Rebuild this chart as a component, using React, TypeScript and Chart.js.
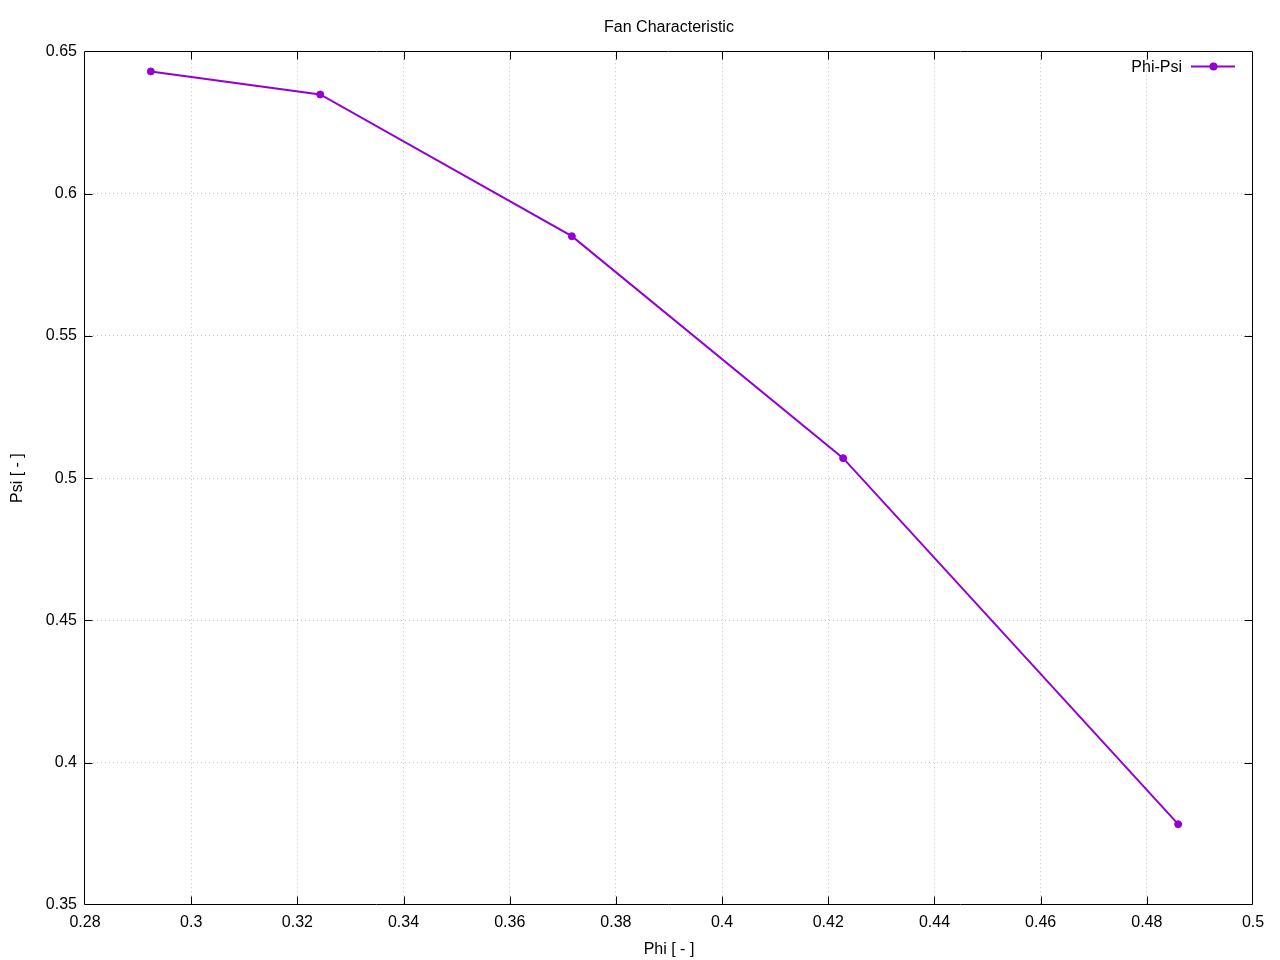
import React, { useEffect, useRef } from "react";
import { Chart, registerables } from "chart.js";

Chart.register(...registerables);

const seriesLabel = "Phi-Psi";
const phiValues = [0.2924, 0.3243, 0.3717, 0.4228, 0.4859];
const psiValues = [0.6429, 0.6348, 0.585, 0.507, 0.3784];
const xTickValues = [0.28, 0.3, 0.32, 0.34, 0.36, 0.38, 0.4, 0.42, 0.44, 0.46, 0.48, 0.5];
const yTickValues = [0.35, 0.4, 0.45, 0.5, 0.55, 0.6, 0.65];
const chartTitle = "Fan Characteristic";
const xTitle = "Phi [ - ]";
const yTitle = "Psi [ - ]";

const LINE_COLOR = "#9400D3";
const GRID_COLOR = "#c4c4c4";
const FONT = "'Liberation Sans', Arial, sans-serif";

const framePlugin = {
  id: "gnuFrame",
  afterDatasetsDraw(chart: any) {
    const { ctx, chartArea } = chart;
    const { left, right, top, bottom } = chartArea;
    const xs = chart.scales.x;
    const ys = chart.scales.y;
    const L = Math.round(left) - 0.5;
    const R = Math.round(right) - 0.5;
    const T = Math.round(top) + 0.5;
    const B = Math.round(bottom) - 0.5;
    const tl = 8;
    ctx.save();
    ctx.strokeStyle = "#000";
    ctx.lineWidth = 1;
    ctx.setLineDash([]);
    ctx.beginPath();
    ctx.rect(L, T, R - L, B - T);
    xTickValues.forEach((v, i) => {
      if (i === 0 || i === xTickValues.length - 1) return;
      const px = Math.round(xs.getPixelForValue(v)) + 0.5;
      ctx.moveTo(px, B);
      ctx.lineTo(px, B - tl);
      ctx.moveTo(px, T);
      ctx.lineTo(px, T + tl);
    });
    yTickValues.forEach((v, i) => {
      if (i === 0 || i === yTickValues.length - 1) return;
      const py = Math.round(ys.getPixelForValue(v)) + 0.5;
      ctx.moveTo(L, py);
      ctx.lineTo(L + tl, py);
      ctx.moveTo(R, py);
      ctx.lineTo(R - tl, py);
    });
    ctx.stroke();

    // legend (top-right, inside)
    const ly = 66.5;
    ctx.font = `16px ${FONT}`;
    ctx.fillStyle = "#000";
    ctx.textAlign = "right";
    ctx.textBaseline = "middle";
    ctx.fillText(chart.data.datasets[0].label, 1182, ly + 1.5);
    ctx.strokeStyle = LINE_COLOR;
    ctx.lineWidth = 2;
    ctx.beginPath();
    ctx.moveTo(1191, ly);
    ctx.lineTo(1235, ly);
    ctx.stroke();
    ctx.fillStyle = LINE_COLOR;
    ctx.beginPath();
    ctx.arc(1213.5, ly, 4, 0, Math.PI * 2);
    ctx.fill();
    ctx.restore();
  },
};

const fmt = (v: number) => String(Number(v.toFixed(4)));
const gridColor = (c: any) => {
  const n = c.scale.ticks.length;
  return c.index === 0 || c.index === n - 1 ? "rgba(0,0,0,0)" : GRID_COLOR;
};

export default function App() {
  const ref = useRef<HTMLCanvasElement | null>(null);
  useEffect(() => {
    const canvas = ref.current;
    if (!canvas) return;
    const chart = new Chart(canvas, {
      type: "line",
      data: {
        datasets: [
          {
            label: seriesLabel,
            data: phiValues.map((x, i) => ({ x, y: psiValues[i] })),
            borderColor: LINE_COLOR,
            backgroundColor: LINE_COLOR,
            borderWidth: 2,
            pointRadius: 3.5,
            pointBorderWidth: 1,
            pointBackgroundColor: LINE_COLOR,
            pointBorderColor: LINE_COLOR,
            tension: 0,
            fill: false,
          },
        ],
      },
      options: {
        responsive: false,
        animation: false,
        devicePixelRatio: 1,
        layout: { padding: { left: 0, right: 27, top: 0, bottom: 0 } },
        plugins: {
          legend: { display: false },
          tooltip: { enabled: false },
          title: {
            display: true,
            text: chartTitle,
            fullSize: false,
            color: "#000",
            font: { family: FONT, size: 16, weight: "normal" },
            padding: { top: 18, bottom: 14 },
          },
        },
        scales: {
          x: {
            type: "linear",
            min: 0.28,
            max: 0.5,
            afterBuildTicks: (s: any) => {
              s.ticks = xTickValues.map((v) => ({ value: v }));
            },
            afterFit: (s: any) => {
              s.height = 55;
            },
            ticks: {
              callback: (v: any) => fmt(Number(v)),
              color: "#000",
              font: { family: FONT, size: 16 },
              padding: 8,
              maxRotation: 0,
              autoSkip: false,
            },
            grid: {
              color: gridColor,
              drawTicks: false,
              lineWidth: 1,
            },
            border: { display: false, dash: [1, 3] },
            title: {
              display: true,
              text: xTitle,
              color: "#000",
              font: { family: FONT, size: 16 },
              padding: { top: 1, bottom: 1 },
            },
          },
          y: {
            type: "linear",
            min: 0.35,
            max: 0.65,
            afterBuildTicks: (s: any) => {
              s.ticks = yTickValues.map((v) => ({ value: v }));
            },
            afterFit: (s: any) => {
              s.width = 85;
            },
            ticks: {
              callback: (v: any) => fmt(Number(v)),
              color: "#000",
              font: { family: FONT, size: 16 },
              padding: 8,
              autoSkip: false,
            },
            grid: {
              color: gridColor,
              drawTicks: false,
              lineWidth: 1,
            },
            border: { display: false, dash: [1, 3] },
            title: {
              display: true,
              text: yTitle,
              color: "#000",
              font: { family: FONT, size: 16 },
              padding: { top: 8, bottom: 0 },
            },
          },
        },
      } as any,
      plugins: [framePlugin],
    });
    return () => chart.destroy();
  }, []);
  return (
    <div style={{ position: "absolute", left: 0, top: 0, width: 1280, height: 960, background: "#fff" }}>
      <canvas ref={ref} width={1280} height={960} />
    </div>
  );
}
